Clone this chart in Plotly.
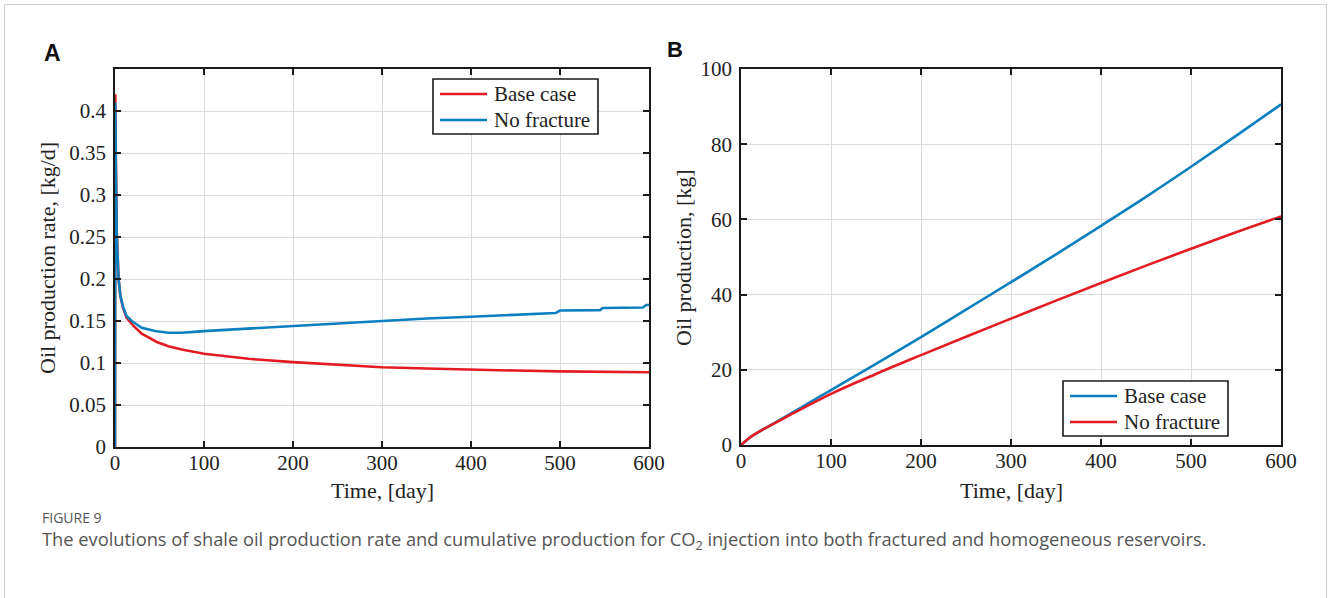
import plotly.graph_objects as go

# ---- Panel A: oil production rate [kg/d] ----
t_rate_base = [0, 0.3, 1, 2, 4, 6, 9, 13, 20, 30, 47, 60, 75, 100, 150, 200,
               250, 300, 350, 400, 450, 500, 550, 600]
rate_base = [0, 0.42, 0.34, 0.255, 0.2, 0.18, 0.166, 0.154, 0.145, 0.135, 0.125,
             0.120, 0.116, 0.111, 0.105, 0.101, 0.098, 0.095, 0.0935, 0.092,
             0.091, 0.090, 0.0895, 0.089]

t_rate_nofrac = [0, 0.3, 1, 2, 4, 6, 9, 13, 20, 30, 45, 60, 75, 100, 150, 200,
                 250, 300, 350, 400, 450, 495, 500, 545, 548, 593, 597, 600]
rate_nofrac = [0, 0.41, 0.33, 0.25, 0.2, 0.18, 0.167, 0.156, 0.149, 0.142, 0.138,
               0.136, 0.136, 0.138, 0.141, 0.1445, 0.147, 0.150, 0.153, 0.155,
               0.157, 0.1595, 0.1625, 0.163, 0.1655, 0.166, 0.169, 0.169]

# ---- Panel B: cumulative oil production [kg] ----
t_cum = [0, 10, 25, 50, 100, 150, 200, 250, 300, 350, 400, 450, 500, 550, 600]
cum_base = [0, 2.0, 4.2, 7.6, 14.6, 21.6, 28.7, 36.0, 43.3, 50.7, 58.3, 66.0,
            74.0, 82.2, 90.6]
cum_nofrac = [0, 2.0, 4.2, 7.4, 13.6, 18.9, 23.9, 28.8, 33.6, 38.4, 43.1, 47.7,
              52.2, 56.6, 60.8]

x_ticks = [0, 100, 200, 300, 400, 500, 600]
rate_ticks = [0, 0.05, 0.1, 0.15, 0.2, 0.25, 0.3, 0.35, 0.4]
rate_tick_text = ["0", "0.05", "0.1", "0.15", "0.2", "0.25", "0.3", "0.35", "0.4"]
cum_ticks = [0, 20, 40, 60, 80, 100]

RED = "#e31b23"
BLUE = "#0b7fbf"
SERIF = "Liberation Serif"
SANS = "Open Sans"
W, H = 1328, 598

fig = go.Figure()

fig.add_trace(go.Scatter(x=t_rate_base, y=rate_base, mode="lines", name="Base case",
                         line=dict(color=RED, width=2.6), xaxis="x", yaxis="y"))
fig.add_trace(go.Scatter(x=t_rate_nofrac, y=rate_nofrac, mode="lines", name="No fracture",
                         line=dict(color=BLUE, width=2.6), xaxis="x", yaxis="y"))
fig.add_trace(go.Scatter(x=t_cum, y=cum_base, mode="lines", name="Base case",
                         line=dict(color=BLUE, width=2.6, shape="spline"),
                         xaxis="x2", yaxis="y2"))
fig.add_trace(go.Scatter(x=t_cum, y=cum_nofrac, mode="lines", name="No fracture",
                         line=dict(color=RED, width=2.6, shape="spline"),
                         xaxis="x2", yaxis="y2"))


def px_x(p):
    return p / W


def px_y(p):
    return 1 - p / H


axis_common = dict(
    showline=True, linecolor="#1a1a1a", linewidth=1.8, mirror="ticks",
    ticks="inside", ticklen=6, tickwidth=1.6, tickcolor="#1a1a1a",
    showgrid=True, gridcolor="#dadada", gridwidth=1, zeroline=False,
    automargin=False,
    tickfont=dict(family=SERIF, size=21, color="#222"),
)

fig.update_layout(
    template="none",
    width=W, height=H,
    margin=dict(l=0, r=0, t=0, b=0, pad=0, autoexpand=False),
    paper_bgcolor="white", plot_bgcolor="white",
    showlegend=False,
    xaxis=dict(domain=[px_x(115), px_x(649)], range=[0, 600], tickvals=x_ticks,
               anchor="y", ticklabelstandoff=-4, **axis_common),
    yaxis=dict(domain=[px_y(447), px_y(69)], range=[0, 0.45], tickvals=rate_ticks,
               ticktext=rate_tick_text, anchor="x", ticklabelstandoff=3, **axis_common),
    xaxis2=dict(domain=[px_x(741), px_x(1281)], range=[0, 600], tickvals=x_ticks,
                anchor="y2", ticklabelstandoff=-4, **axis_common),
    yaxis2=dict(domain=[px_y(445), px_y(69)], range=[0, 100], tickvals=cum_ticks,
                anchor="x2", ticklabelstandoff=3, **axis_common),
)

annotations = [
    # panel letters
    dict(text="<b>A</b>", x=px_x(52), y=px_y(53), font=dict(family="Liberation Sans", size=23, color="#111")),
    dict(text="<b>B</b>", x=px_x(675), y=px_y(50), font=dict(family="Liberation Sans", size=22, color="#111")),
    # axis titles
    dict(text="Time, [day]", x=px_x(382), y=px_y(490), font=dict(family=SERIF, size=22, color="#222")),
    dict(text="Time, [day]", x=px_x(1011), y=px_y(490), font=dict(family=SERIF, size=22, color="#222")),
    dict(text="Oil production rate, [kg/d]", x=px_x(48), y=px_y(258), textangle=-90,
         font=dict(family=SERIF, size=22, color="#222")),
    dict(text="Oil production, [kg]", x=px_x(683), y=px_y(257), textangle=-90,
         font=dict(family=SERIF, size=22, color="#222")),
    # caption
    dict(text="FIGURE 9", x=px_x(40), y=px_y(517), xanchor="left",
         font=dict(family=SANS, size=14, color="#555")),
    dict(text="The evolutions of shale oil production rate and cumulative production for CO<sub>2</sub> "
              "injection into both fractured and homogeneous reservoirs.",
         x=px_x(40), y=px_y(540), xanchor="left",
         font=dict(family=SANS, size=18.3, color="#555")),
]

# thin frame around the figure card
frame = dict(type="line", xref="paper", yref="paper", line=dict(color="#cfcfcf", width=1.2))
shapes = [
    dict(frame, x0=px_x(4.5), x1=px_x(4.5), y0=0, y1=px_y(4.5)),
    dict(frame, x0=px_x(4.5), x1=px_x(1326.5), y0=px_y(4.5), y1=px_y(4.5)),
    dict(frame, x0=px_x(1326.5), x1=px_x(1326.5), y0=0, y1=px_y(4.5)),
]


def add_legend_box(left, top, entries):
    """Boxed legend (MATLAB style): a long line sample followed by the label."""
    right, bottom = left + 165, top + 55
    shapes.append(dict(type="rect", xref="paper", yref="paper",
                       x0=px_x(left), x1=px_x(right), y0=px_y(bottom), y1=px_y(top),
                       fillcolor="white", line=dict(color="#1a1a1a", width=1.6),
                       layer="above"))
    for i, (label, color) in enumerate(entries):
        row = top + 15 + 26 * i
        shapes.append(dict(type="line", xref="paper", yref="paper",
                           x0=px_x(left + 7), x1=px_x(left + 54), y0=px_y(row), y1=px_y(row),
                           line=dict(color=color, width=2.6), layer="above"))
        annotations.append(dict(text=label, x=px_x(left + 59), y=px_y(row), xanchor="left",
                                font=dict(family=SERIF, size=21, color="#222")))


add_legend_box(433, 79, [(fig.data[0].name, RED), (fig.data[1].name, BLUE)])
add_legend_box(1063, 381, [(fig.data[2].name, BLUE), (fig.data[3].name, RED)])

for a in annotations:
    a.setdefault("xanchor", "center")
    a.update(xref="paper", yref="paper", showarrow=False, yanchor="middle")
fig.update_layout(annotations=annotations, shapes=shapes)

fig.write_html("out.html")
